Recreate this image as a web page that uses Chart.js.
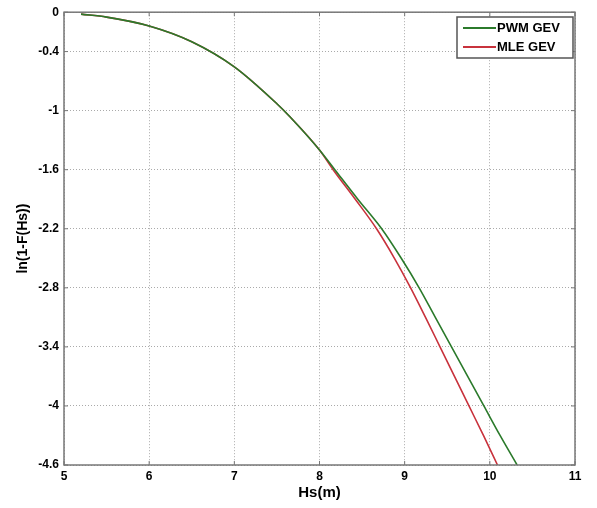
<!DOCTYPE html>
<html>
<head>
<meta charset="utf-8">
<script src="https://cdn.jsdelivr.net/npm/chart.js@4"></script>
<style>
 body{margin:0;background:#fff;}
 #wrap{width:597px;height:508px;}
</style>
</head>
<body>
<div id="wrap"><canvas id="mychart" width="597" height="508"></canvas></div>
<script>
// data
var seriesNames = ["PWM GEV", "MLE GEV"]
var pwmX = [5.2, 5.5, 6.0, 6.5, 7.0, 7.5, 7.65, 8.0, 8.18, 8.45, 8.73, 8.96, 9.17, 9.36, 9.55, 9.74, 9.93, 10.12, 10.32]
var pwmY = [-0.02, -0.05, -0.14, -0.30, -0.555, -0.93, -1.06, -1.40, -1.6, -1.9, -2.2, -2.5, -2.8, -3.1, -3.4, -3.7, -4.0, -4.3, -4.6]
var mleX = [5.2, 5.5, 6.0, 6.5, 7.0, 7.5, 7.65, 8.0, 8.16, 8.42, 8.67, 8.88, 9.07, 9.245, 9.415, 9.585, 9.755, 9.925, 10.09]
var mleY = [-0.02, -0.05, -0.14, -0.30, -0.555, -0.93, -1.06, -1.40, -1.6, -1.9, -2.2, -2.5, -2.8, -3.1, -3.4, -3.7, -4.0, -4.3, -4.6]
var xTicks = [5, 6, 7, 8, 9, 10, 11]
var yTicks = [0, -0.4, -1, -1.6, -2.2, -2.8, -3.4, -4, -4.6]

var colors = ["#2b7a2b", "#c8323c"]

function pts(xs, ys){
	var out = []
	xs.forEach((v, i)=>{ out.push({x:v, y:ys[i]}) })
	return out
}

// frame, inner ticks and the boxed legend, drawn like the matlab figure
var framePlugin = {
	id:'frame',
	afterDraw(chart){
		var c = chart.ctx, a = chart.chartArea
		var sx = chart.scales.x, sy = chart.scales.y
		c.save()
		c.strokeStyle = "#777"
		c.lineWidth = 1.5
		c.strokeRect(a.left, a.top, a.right-a.left, a.bottom-a.top)
		c.lineWidth = 1
		xTicks.forEach(t=>{
			var px = sx.getPixelForValue(t)
			c.beginPath(); c.moveTo(px, a.bottom); c.lineTo(px, a.bottom-4); c.stroke()
			c.beginPath(); c.moveTo(px, a.top); c.lineTo(px, a.top+4); c.stroke()
		})
		yTicks.forEach(t=>{
			var py = sy.getPixelForValue(t)
			c.beginPath(); c.moveTo(a.left, py); c.lineTo(a.left+4, py); c.stroke()
			c.beginPath(); c.moveTo(a.right, py); c.lineTo(a.right-4, py); c.stroke()
		})
		// legend
		var lx = 457, ly = 17, lw = 116, lh = 41
		c.fillStyle = "#fff"
		c.fillRect(lx, ly, lw, lh)
		c.strokeStyle = "#555"
		c.lineWidth = 1.5
		c.strokeRect(lx, ly, lw, lh)
		c.font = "bold 13px 'Liberation Sans', Arial, sans-serif"
		c.textBaseline = "middle"
		seriesNames.forEach((n, i)=>{
			var yy = ly + 11 + i*19
			c.strokeStyle = colors[i]
			c.lineWidth = 2
			c.beginPath(); c.moveTo(lx+6, yy); c.lineTo(lx+39, yy); c.stroke()
			c.fillStyle = "#000"
			c.fillText(n, lx+40, yy)
		})
		c.restore()
	}
}

var tickFont = {family:"'Liberation Sans', Arial, sans-serif", size:12, weight:'bold'}

var myChart = document.getElementById("mychart").getContext('2d')
var chart = new Chart(myChart, {
	type:'scatter',
	data:{
		datasets:[
			{
				label:seriesNames[0],
				data:pts(pwmX, pwmY),
				showLine:true,
				borderColor:colors[0],
				borderWidth:1.6,
				pointRadius:0,
				cubicInterpolationMode:'monotone'
			},
			{
				label:seriesNames[1],
				data:pts(mleX, mleY),
				showLine:true,
				borderColor:colors[1],
				borderWidth:1.6,
				pointRadius:0,
				cubicInterpolationMode:'monotone'
			}
		]
	},
	options:{
		responsive:false,
		animation:false,
		layout:{padding:{left:0, right:22, top:12, bottom:6}},
		plugins:{legend:{display:false}, tooltip:{enabled:false}},
		scales:{
			x:{
				type:'linear', min:5, max:11,
				afterBuildTicks(s){ s.ticks = xTicks.map(v=>({value:v})) },
				afterFit(s){ s.height = 37 },
				grid:{color:"#aaa", lineWidth:1, drawTicks:false},
				border:{display:false, dash:[1,2]},
				ticks:{color:"#000", font:tickFont, padding:4, maxRotation:0},
				title:{display:true, text:"Hs(m)", color:"#000", padding:{top:0, bottom:0},
					font:{family:"'Liberation Sans', Arial, sans-serif", size:15, weight:'bold'}}
			},
			y:{
				type:'linear', min:-4.6, max:0,
				afterBuildTicks(s){ s.ticks = yTicks.map(v=>({value:v})) },
				afterFit(s){ s.width = 64 },
				grid:{color:"#aaa", lineWidth:1, drawTicks:false},
				border:{display:false, dash:[1,2]},
				ticks:{color:"#000", font:tickFont, padding:5, callback:v=>String(v)},
				title:{display:true, text:"ln(1-F(Hs))", color:"#000", padding:{top:15, bottom:0},
					font:{family:"'Liberation Sans', Arial, sans-serif", size:14, weight:'bold'}}
			}
		}
	},
	plugins:[framePlugin]
})
</script>
</body>
</html>
